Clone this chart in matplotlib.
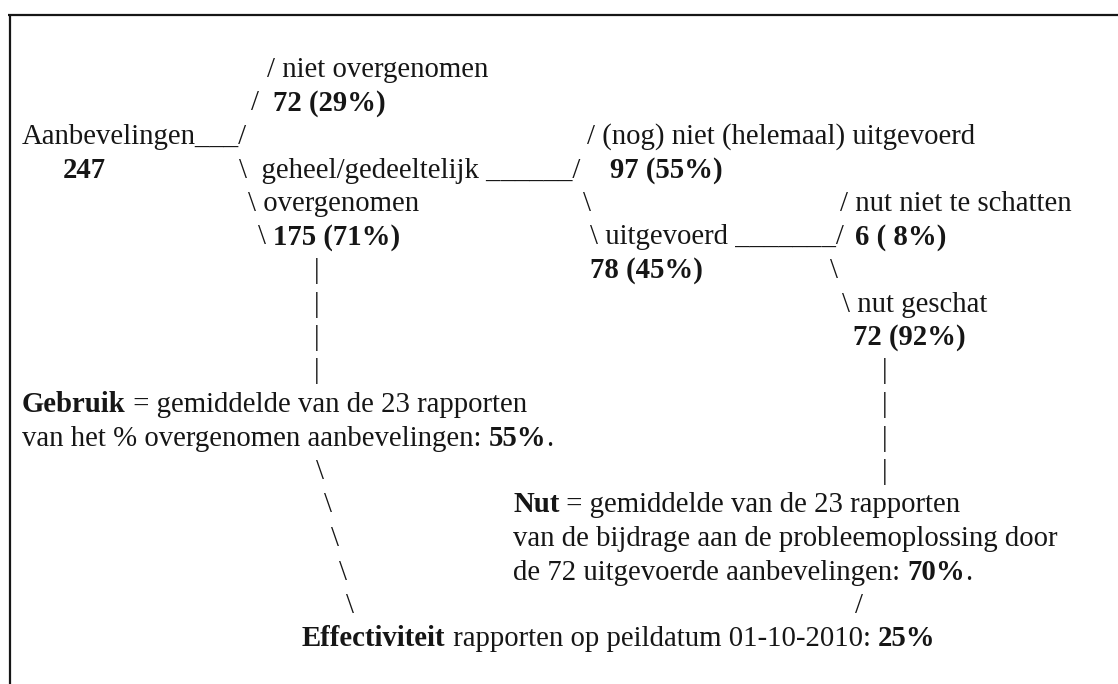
import matplotlib
matplotlib.use("Agg")
import matplotlib.pyplot as plt
from matplotlib.font_manager import FontProperties, findfont, get_font

W, H, DPI = 1118, 684, 100
SERIF = "Liberation Serif"
FS = 20.7
INK = "#161616"

# values from the tree
total_recs = 247
adopted_counts = [72, 175]      # niet overgenomen, geheel/gedeeltelijk overgenomen
adopted_pcts = [29, 71]
executed_counts = [97, 78]      # (nog) niet uitgevoerd, uitgevoerd
executed_pcts = [55, 45]
benefit_counts = [6, 72]        # nut niet te schatten, nut geschat
benefit_pcts = [8, 92]
n_reports = 23
gebruik_pct = 55
nut_pct = 70
effect_pct = 25
peildatum = "01-10-2010"


def baseline(row):
    return 77 + 33.5 * row


def seg_width(s, bold):
    font = get_font(findfont(FontProperties(family=SERIF,
                                            weight="bold" if bold else "normal")))
    font.set_size(FS, DPI)
    return sum(font.load_char(ord(c)).linearHoriAdvance for c in s) / 65536


def draw_line(ax, row, x, segments):
    y = baseline(row)
    for s, bold in segments:
        ax.text(x, y, s, fontsize=FS, family=SERIF, color=INK,
                fontweight="bold" if bold else "normal",
                ha="left", va="baseline")
        x += seg_width(s, bold)


def nb(count, pct):
    return f"{count} ({pct}%)"


layout = [
    (0, 267, [("/ niet overgenomen", 0)]),
    (1, 251, [("/  ", 0), (nb(adopted_counts[0], adopted_pcts[0]), 1)]),
    (2, 22, [("Aanbevelingen___/", 0)]),
    (2, 587, [("/ (nog) niet (helemaal) uitgevoerd", 0)]),
    (3, 63, [(str(total_recs), 1)]),
    (3, 239, [("\\  geheel/gedeeltelijk ______/", 0)]),
    (3, 610, [(nb(executed_counts[0], executed_pcts[0]), 1)]),
    (4, 248, [("\\ overgenomen", 0)]),
    (4, 583, [("\\", 0)]),
    (4, 840, [("/ nut niet te schatten", 0)]),
    (5, 258, [("\\ ", 0), (nb(adopted_counts[1], adopted_pcts[1]), 1)]),
    (5, 590, [("\\ uitgevoerd _______/", 0)]),
    (5, 855, [(f"{benefit_counts[0]} ( {benefit_pcts[0]}%)", 1)]),
    (6, 590, [(nb(executed_counts[1], executed_pcts[1]), 1)]),
    (6, 830, [("\\", 0)]),
    (7, 842, [("\\ nut geschat", 0)]),
    (8, 853, [(nb(benefit_counts[1], benefit_pcts[1]), 1)]),
    (10, 22, [("Gebruik", 1), (f" = gemiddelde van de {n_reports} rapporten", 0)]),
    (11, 22, [("van het % overgenomen aanbevelingen: ", 0), (f"{gebruik_pct}%", 1), (".", 0)]),
    (13, 513, [("Nut", 1), (f" = gemiddelde van de {n_reports} rapporten", 0)]),
    (14, 513, [("van de bijdrage aan de probleemoplossing door", 0)]),
    (15, 513, [(f"de {benefit_counts[1]} uitgevoerde aanbevelingen: ", 0), (f"{nut_pct}%", 1), (".", 0)]),
    (16, 855, [("/", 0)]),
    (17, 302, [("Effectiviteit", 1), (f" rapporten op peildatum {peildatum}: ", 0), (f"{effect_pct}%", 1)]),
]

# typed connector characters
bar_rows_left = [6, 7, 8, 9]
bar_rows_right = [9, 10, 11, 12]
slash_rows = [12, 13, 14, 15, 16]
slash_x = [316, 324, 331, 339, 346]

fig = plt.figure(figsize=(W / DPI, H / DPI), dpi=DPI)
ax = fig.add_axes([0, 0, 1, 1])
ax.set_xlim(0, W)
ax.set_ylim(H, 0)
ax.axis("off")

# frame (top and left edge)
ax.plot([8, W], [15, 15], color=INK, lw=1.6, solid_capstyle="butt")
ax.plot([9.5, 9.5], [15, H], color=INK, lw=1.6, solid_capstyle="butt")

for row, x, segs in layout:
    draw_line(ax, row, x, segs)

for r in bar_rows_left:
    draw_line(ax, r, 314, [("|", 0)])
for r in bar_rows_right:
    draw_line(ax, r, 882, [("|", 0)])
for r, x in zip(slash_rows[:-1], slash_x):
    draw_line(ax, r, x, [("\\", 0)])
draw_line(ax, slash_rows[-1], slash_x[-1], [("\\", 0)])

fig.savefig("out.png", dpi=DPI)
